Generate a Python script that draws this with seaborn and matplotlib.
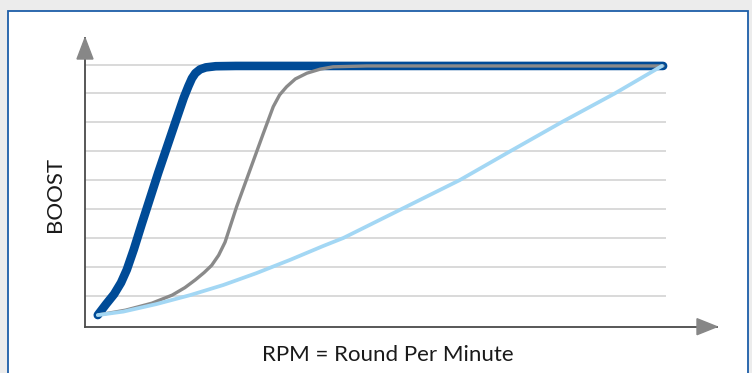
import matplotlib
matplotlib.use("Agg")
import matplotlib.pyplot as plt
from matplotlib.patches import Polygon, Rectangle
import seaborn as sns

# curves (x: rpm units, y: boost units, grid = 1 unit)
fast_x = [0.22, 0.36, 0.50, 0.62, 0.72, 0.84, 0.98, 1.26, 1.55, 1.70, 1.78, 1.84, 1.90, 1.98, 2.08, 2.25, 2.60, 9.95]
fast_y = [0.33, 0.70, 1.05, 1.45, 1.90, 2.60, 3.50, 5.25, 6.97, 7.85, 8.25, 8.52, 8.70, 8.83, 8.90, 8.94, 8.95, 8.95]

mid_x = [0.22, 0.70, 1.15, 1.50, 1.72, 1.90, 2.05, 2.18, 2.30, 2.41, 2.61, 2.84, 3.07, 3.24, 3.35, 3.47,
         3.62, 3.82, 4.05, 4.27, 4.85, 9.95]
mid_y = [0.33, 0.50, 0.74, 1.02, 1.28, 1.55, 1.80, 2.05, 2.40, 2.85, 4.08, 5.35, 6.62, 7.54, 7.95, 8.23,
         8.50, 8.70, 8.84, 8.92, 8.95, 8.95]

slow_x = [0.22, 0.66, 1.23, 1.81, 2.38, 2.95, 3.53, 4.10, 4.45, 5.45, 6.45, 7.32, 8.20, 9.12, 9.93]
slow_y = [0.33, 0.45, 0.71, 1.02, 1.37, 1.78, 2.24, 2.72, 3.00, 4.00, 5.00, 6.00, 7.00, 8.00, 8.95]

grid_levels = [1, 2, 3, 4, 5, 6, 7, 8, 9]

sns.set_style("white")
plt.rcParams['font.family'] = ['Lato', 'DejaVu Sans']

W, H = 752, 373
fig = plt.figure(figsize=(W / 100, H / 100), dpi=100, facecolor='#ececec')

# white panel with blue frame
fig.patches.append(Rectangle((8 / W, -0.05), 740 / W, (H - 11) / H + 0.05,
                             transform=fig.transFigure, facecolor='white',
                             edgecolor='#1d5ea8', lw=1.3, zorder=-1))

ax_l, ax_r, ax_b, ax_t = 85, 717, 326.7, 38
ax = fig.add_axes([ax_l / W, (H - ax_b) / H, (ax_r - ax_l) / W, (ax_b - ax_t) / H])
ax.patch.set_alpha(0)
ax.set_xlim(0, (ax_r - ax_l) / 58.1)
ax.set_ylim((324.6 - ax_b) / 28.9, (324.6 - ax_t) / 28.9)

ax.hlines(grid_levels, 0, 10, color='#cfcfcf', lw=1.1, zorder=1)

sns.lineplot(x=fast_x, y=fast_y, ax=ax, color='#004b97', lw=6.2, sort=False,
             solid_capstyle='round', solid_joinstyle='round', zorder=3)
sns.lineplot(x=mid_x, y=mid_y, ax=ax, color='#8a8a8a', lw=2.4, sort=False,
             solid_capstyle='round', solid_joinstyle='round', zorder=4)
sns.lineplot(x=slow_x, y=slow_y, ax=ax, color='#a3d7f4', lw=2.7, sort=False,
             solid_capstyle='round', solid_joinstyle='round', zorder=5)

# axes with arrow heads
for s in ['top', 'right']:
    ax.spines[s].set_visible(False)
for s in ['left', 'bottom']:
    ax.spines[s].set_color('#4a4a4a')
    ax.spines[s].set_linewidth(1.3)
ax.set_xticks([])
ax.set_yticks([])

aw, ah = ax_r - ax_l, ax_b - ax_t
ax.add_patch(Polygon([(0, 1), (-8 / aw, 1 - 21 / ah), (8 / aw, 1 - 21 / ah)],
                     closed=True, transform=ax.transAxes, color='#878787',
                     clip_on=False, zorder=6))
ax.add_patch(Polygon([(1, 0), (1 - 20 / aw, 8 / ah), (1 - 20 / aw, -8 / ah)],
                     closed=True, transform=ax.transAxes, color='#878787',
                     clip_on=False, zorder=6))

ax.set_xlabel("RPM = Round Per Minute", fontsize=16, color='#1a1a1a')
ax.xaxis.set_label_coords((388 - ax_l) / aw, -(355 - ax_b) / ah)
ax.xaxis.label.set_va('center')
ax.set_ylabel("BOOST", fontsize=16, color='#1a1a1a')
ax.yaxis.set_label_coords(-(ax_l - 55) / aw, (ax_b - 194) / ah)
ax.yaxis.label.set_va('center')

fig.savefig("out.png", dpi=100, facecolor=fig.get_facecolor())
